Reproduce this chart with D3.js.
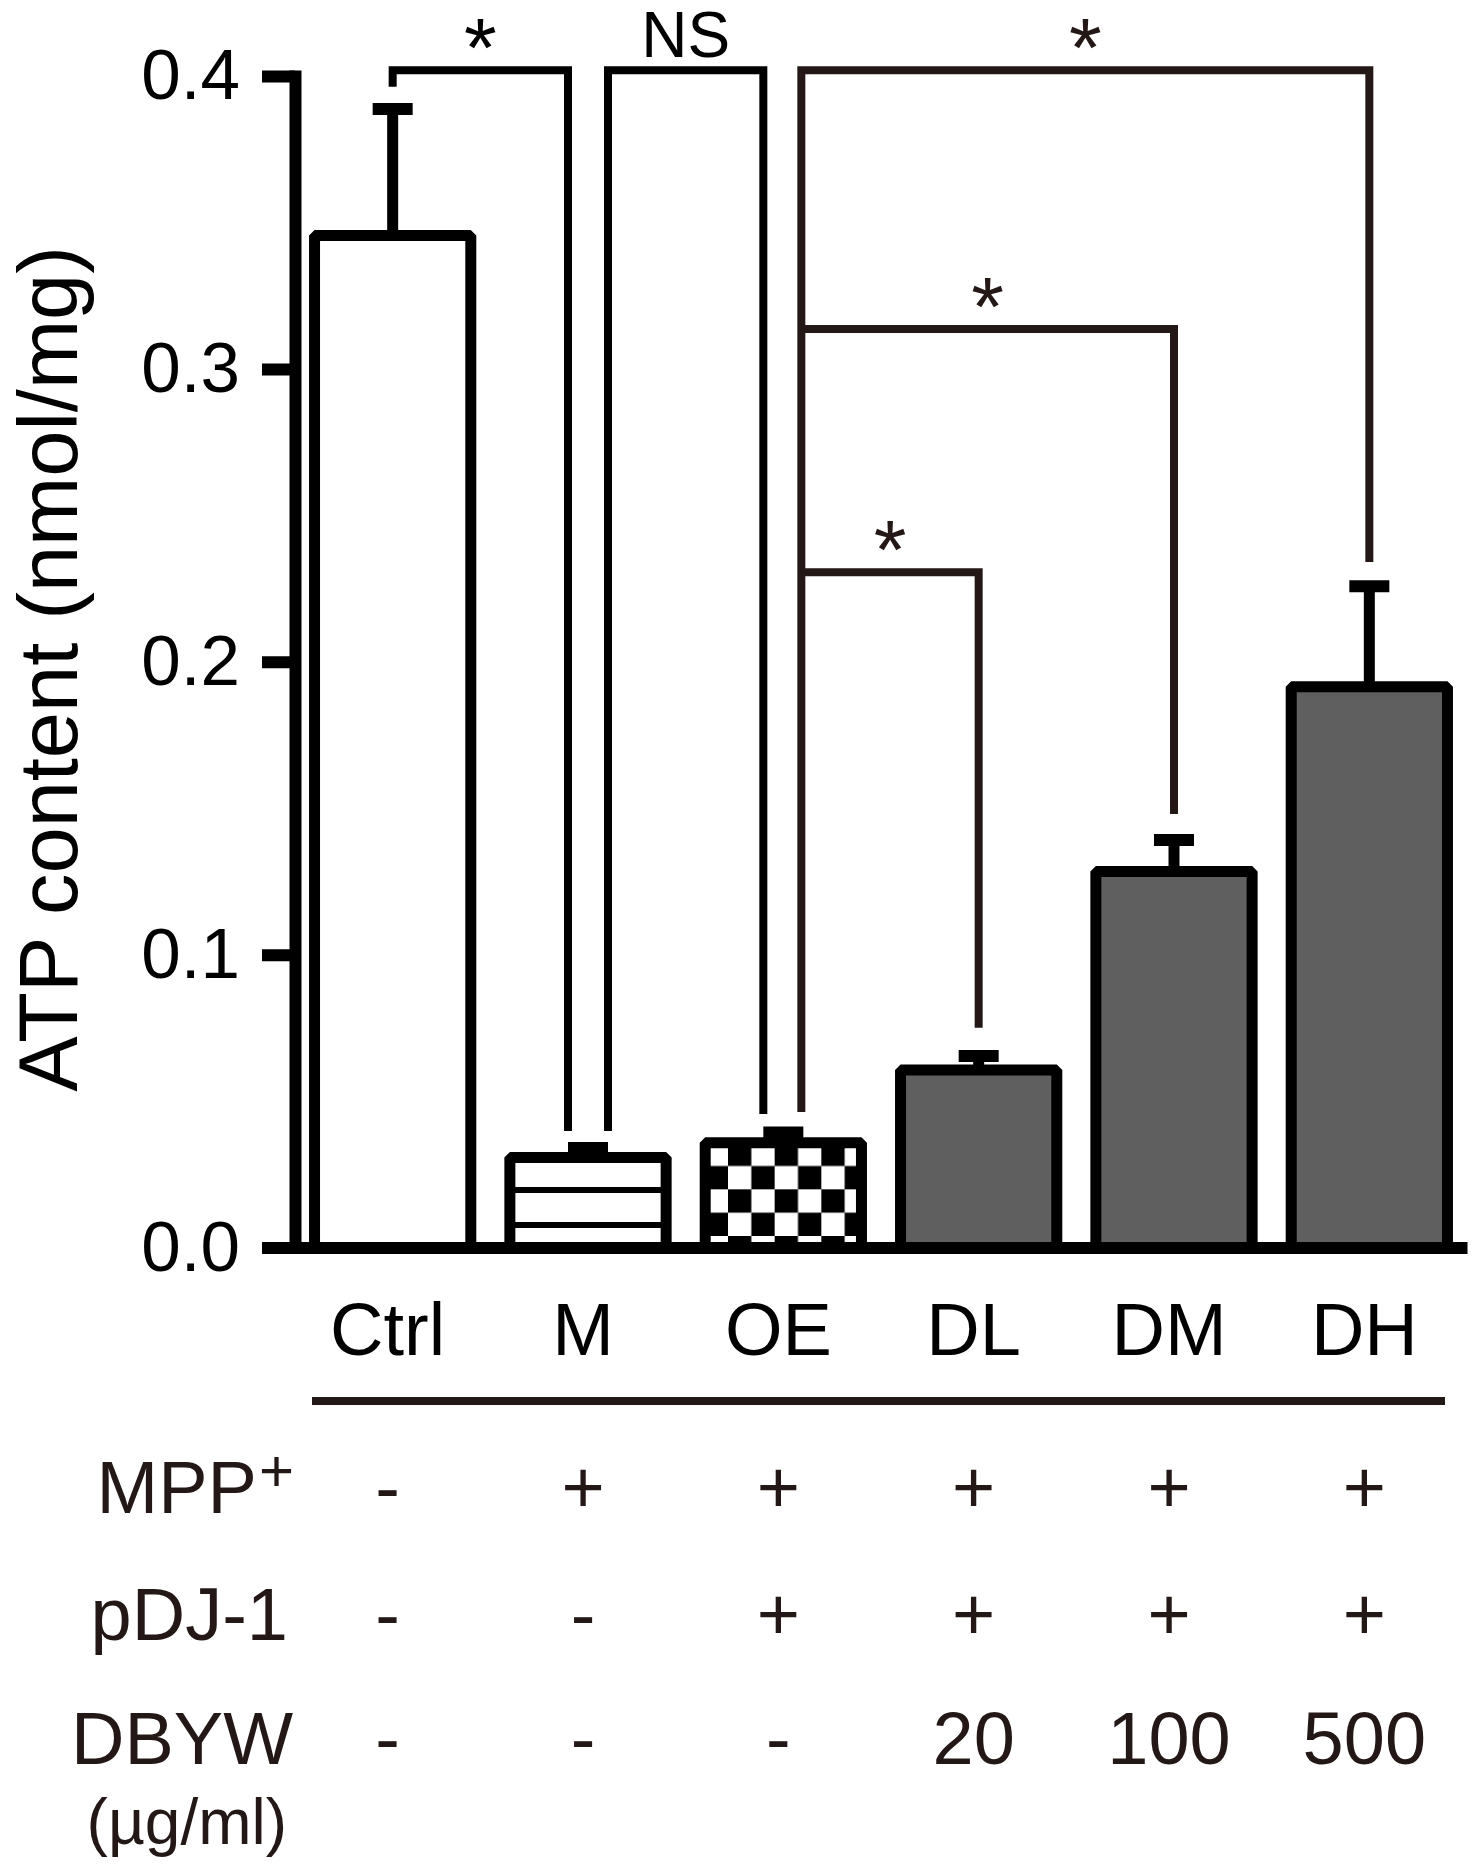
<!DOCTYPE html>
<html>
<head>
<meta charset="utf-8">
<script src="https://cdn.jsdelivr.net/npm/d3@7"></script>
<style>
  html, body { margin: 0; padding: 0; background: #fff; }
  svg { display: block; }
  text { font-family: Arial, "Liberation Sans", Helvetica, sans-serif; }
</style>
</head>
<body>
<svg id="chart" width="1479" height="1872"></svg>
<script>
// ---------- data ----------
const categories = ["Ctrl", "M", "OE", "DL", "DM", "DH"];
const meanValues = [0.3455, 0.0307, 0.0358, 0.0606, 0.1284, 0.1915];
const errorValues = [0.0432, 0.0033, 0.0035, 0.0048, 0.0107, 0.0343];
const yTicks = [0.0, 0.1, 0.2, 0.3, 0.4];
const yLabel = "ATP content (nmol/mg)";

const rowLabels = ["MPP", "pDJ-1", "DBYW"];
const unitLabel = "(µg/ml)";
const mppRow = ["-", "+", "+", "+", "+", "+"];
const pdjRow = ["-", "-", "+", "+", "+", "+"];
const dbywRow = ["-", "-", "-", "20", "100", "500"];

// significance comparisons: from group a to group b, bracket level and leg ends (data units)
const compA = ["Ctrl", "M", "OE", "OE", "OE"];
const compB = ["M", "OE", "DH", "DM", "DL"];
const compLevel = [0.402, 0.402, 0.402, 0.3136, 0.2306];
const compEndA = [0.3963, 0.0398, 0.0463, 0.3136, 0.2306];
const compEndB = [0.0398, 0.0456, 0.2341, 0.1480, 0.0750];
const compLabel = ["*", "NS", "*", "*", "*"];

// ---------- style / layout ----------
const fillKind = ["white", "lines", "checker", "gray", "gray", "gray"];
const legOffA = [0, 20, 18, 18, 18];
const legOffB = [-20, -20, 0, 0, 0];
const compColor = ["#000", "#000", "#231815", "#231815", "#231815"];
const tableColor = "#231815";

const svg = d3.select("#chart");

const x = d3.scaleBand().domain(categories).range([295, 1467]).paddingInner(0.2).paddingOuter(0.1);
const y = d3.scaleLinear().domain([0, 0.4]).range([1247.5, 76]);
const cx = d => x(d) + x.bandwidth() / 2;

// patterns
const defs = svg.append("defs");
const pl = defs.append("pattern").attr("id", "lines").attr("patternUnits", "userSpaceOnUse")
  .attr("x", 0).attr("y", 1187).attr("width", 40).attr("height", 35);
pl.append("rect").attr("width", 40).attr("height", 35).attr("fill", "#fff");
pl.append("rect").attr("width", 40).attr("height", 6).attr("fill", "#000");

const cs = 23.33;
const pc = defs.append("pattern").attr("id", "checker").attr("patternUnits", "userSpaceOnUse")
  .attr("x", 728).attr("y", 1166 - cs).attr("width", cs * 2).attr("height", cs * 2);
pc.append("rect").attr("width", cs * 2).attr("height", cs * 2).attr("fill", "#fff");
pc.append("rect").attr("x", 0).attr("y", 0).attr("width", cs).attr("height", cs).attr("fill", "#000");
pc.append("rect").attr("x", cs).attr("y", cs).attr("width", cs).attr("height", cs).attr("fill", "#000");

const fillFor = k => k === "white" ? "#fff" : k === "lines" ? "url(#lines)" : k === "checker" ? "url(#checker)" : "#5f5f5f";

const barData = categories.map((c, i) => ({ c, v: meanValues[i], e: errorValues[i], f: fillKind[i] }));

// error bars
const eb = svg.append("g");
eb.selectAll("line.stem").data(barData).join("line").attr("class", "stem")
  .attr("x1", d => cx(d.c)).attr("x2", d => cx(d.c))
  .attr("y1", d => y(d.v)).attr("y2", d => y(d.v + d.e))
  .attr("stroke", "#000").attr("stroke-width", 11);
eb.selectAll("line.cap").data(barData).join("line").attr("class", "cap")
  .attr("x1", d => cx(d.c) - 20).attr("x2", d => cx(d.c) + 20)
  .attr("y1", d => y(d.v + d.e)).attr("y2", d => y(d.v + d.e))
  .attr("stroke", "#000").attr("stroke-width", 12);

// bars
svg.append("g").selectAll("rect").data(barData).join("rect")
  .attr("x", d => x(d.c)).attr("width", x.bandwidth())
  .attr("y", d => y(d.v)).attr("height", d => y(0) - y(d.v))
  .attr("fill", d => fillFor(d.f))
  .attr("stroke", "#000").attr("stroke-width", 11).attr("stroke-linejoin", "bevel");

// y axis
const yAxis = svg.append("g").attr("transform", "translate(295,0)")
  .call(d3.axisLeft(y).tickValues(yTicks).tickFormat(d3.format(".1f")).tickSize(33).tickSizeOuter(0).tickPadding(22));
yAxis.select(".domain").attr("stroke", "#000").attr("stroke-width", 12).attr("stroke-linecap", "square");
yAxis.selectAll(".tick line").attr("stroke", "#000").attr("stroke-width", 12);
yAxis.selectAll(".tick text").attr("font-size", 71).attr("fill", "#000")
  .attr("font-family", "Arial, 'Liberation Sans', sans-serif");

// x axis
const xAxis = svg.append("g").attr("transform", `translate(0,${y(0)})`)
  .call(d3.axisBottom(x).tickSize(0).tickSizeOuter(0).tickPadding(55));
xAxis.select(".domain").attr("stroke", "#000").attr("stroke-width", 12);
xAxis.selectAll(".tick text").attr("font-size", 74).attr("fill", "#000").attr("dx", -5)
  .attr("font-family", "Arial, 'Liberation Sans', sans-serif");

// y label
svg.append("text").attr("transform", "translate(77,669) rotate(-90)")
  .attr("text-anchor", "middle").attr("font-size", 83).attr("fill", "#000").text(yLabel);

// separator line
svg.append("line").attr("x1", 312).attr("x2", 1445).attr("y1", 1401).attr("y2", 1401)
  .attr("stroke", tableColor).attr("stroke-width", 8);

// condition table
const rows = [mppRow, pdjRow, dbywRow];
const rowBase = [1513, 1640, 1764];
rows.forEach((r, ri) => {
  svg.append("g").selectAll("text").data(r).join("text")
    .attr("x", (d, i) => cx(categories[i]) - 5).attr("y", rowBase[ri])
    .attr("text-anchor", "middle").attr("font-size", 74).attr("fill", tableColor)
    .text(d => d);
});
const mpp = svg.append("text").attr("x", 294).attr("y", rowBase[0]).attr("text-anchor", "end")
  .attr("font-size", 74).attr("fill", tableColor);
mpp.append("tspan").text(rowLabels[0]);
mpp.append("tspan").attr("font-size", 60).attr("dy", -22).attr("dx", 2).text("+");
svg.append("text").attr("x", 288).attr("y", rowBase[1]).attr("text-anchor", "end")
  .attr("font-size", 74).attr("fill", tableColor).text(rowLabels[1]);
svg.append("text").attr("x", 293).attr("y", rowBase[2]).attr("text-anchor", "end")
  .attr("font-size", 74).attr("fill", tableColor).text(rowLabels[2]);
svg.append("text").attr("x", 287).attr("y", 1844).attr("text-anchor", "end")
  .attr("font-size", 64).attr("fill", tableColor).text(unitLabel);

// significance brackets
const comps = compA.map((a, i) => ({
  xa: cx(a) + legOffA[i], xb: cx(compB[i]) + legOffB[i],
  lvl: compLevel[i], ea: compEndA[i], eb: compEndB[i], label: compLabel[i], color: compColor[i]
}));
const bg = svg.append("g");
bg.selectAll("path").data(comps).join("path")
  .attr("d", d => `M${d.xa},${y(d.ea)}V${y(d.lvl)}H${d.xb}V${y(d.eb)}`)
  .attr("fill", "none").attr("stroke", d => d.color).attr("stroke-width", 8)
  .attr("stroke-linejoin", "miter");
bg.selectAll("text").data(comps).join("text")
  .attr("x", d => (d.xa + d.xb) / 2)
  .attr("y", d => d.label === "NS" ? y(d.lvl) - 13 : y(d.lvl) + 7)
  .attr("text-anchor", "middle")
  .attr("font-family", d => d.label === "NS" ? "Arial, 'Liberation Sans', sans-serif" : "'Liberation Serif', 'Times New Roman', serif")
  .attr("font-size", d => d.label === "NS" ? 64 : 84)
  .attr("fill", d => d.color)
  .text(d => d.label);
</script>
</body>
</html>
